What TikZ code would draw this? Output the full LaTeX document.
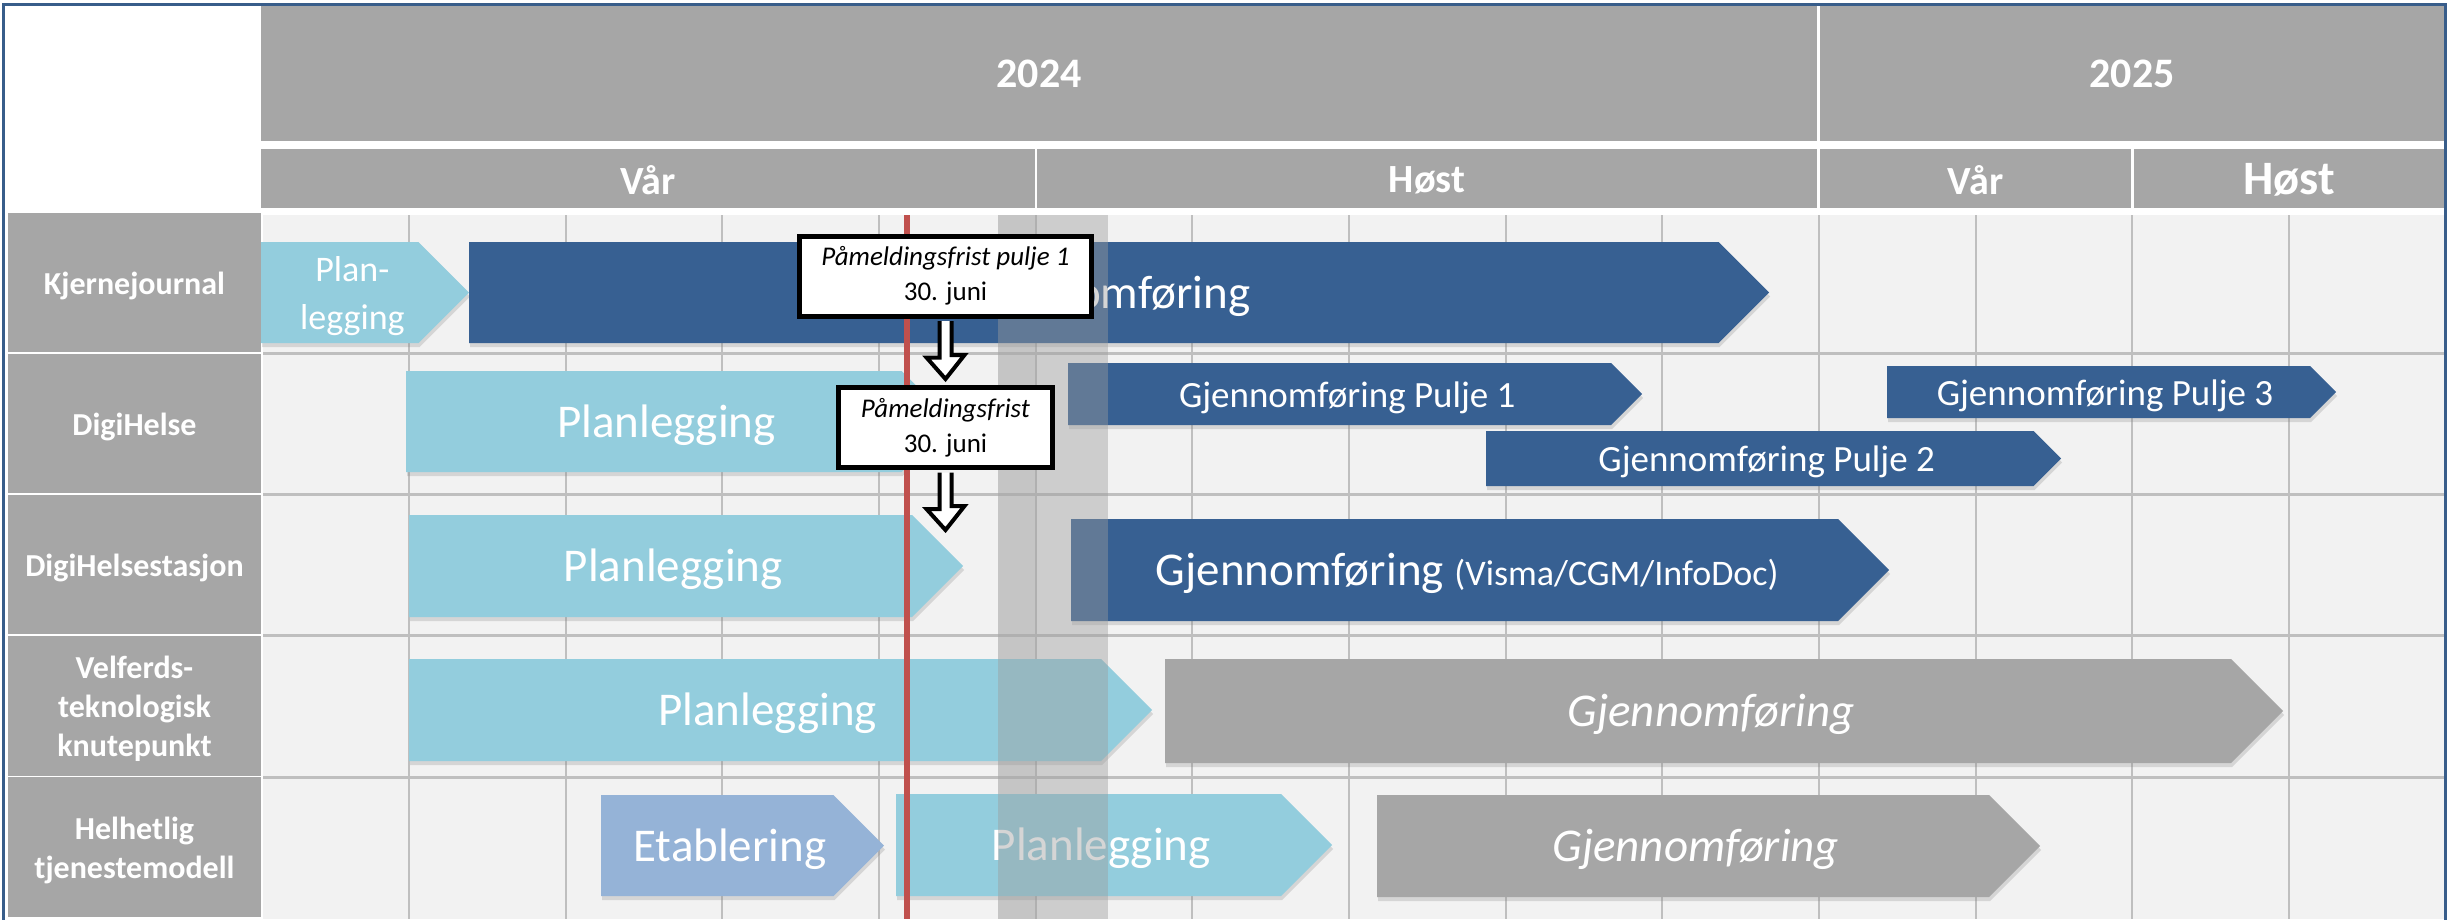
\documentclass[tikz,border=0pt]{standalone}
\usepackage{fontspec}
\setmainfont{Carlito}
\usetikzlibrary{calc,shadows}
\definecolor{headgray}{HTML}{A6A6A6}
\definecolor{gridbg}{HTML}{F2F2F2}
\definecolor{gridgray}{HTML}{BFBFBF}
\definecolor{planblue}{HTML}{93CDDD}
\definecolor{implblue}{HTML}{376092}
\definecolor{estabblue}{HTML}{95B3D7}
\definecolor{fristred}{HTML}{C0504D}
\definecolor{frameblue}{HTML}{385D8A}
\definecolor{bandgray}{HTML}{9C9C9C}
\definecolor{bandlight}{HTML}{E4E4E4}
\begin{document}
\begin{tikzpicture}[x=1pt,y=-1pt,
  headtext/.style={text=white,font=\bfseries\fontsize{42}{50}\selectfont},
  rowlabel/.style={text=white,inner sep=0pt,align=center,font=\bfseries\fontsize{32}{39}\selectfont},
  gridline/.style={draw=gridgray,line width=2pt},
  rowline/.style={draw=gridgray,line width=3pt},
  barshadow/.style={drop shadow={shadow xshift=1pt,shadow yshift=-4pt,opacity=.25}},
  planbar/.style={fill=planblue,barshadow},
  implbar/.style={fill=implblue,barshadow},
  estabbar/.style={fill=estabblue,barshadow},
  greybar/.style={fill=headgray,barshadow},
  bartext/.style={text=white,align=center,inner sep=0pt,yshift=-3.5pt},
  txtbig/.style={font=\fontsize{47}{56}\selectfont},
  txtmid/.style={font=\fontsize{37}{44}\selectfont},
  txttwo/.style={font=\fontsize{36}{48}\selectfont},
  txtital/.style={font=\itshape\fontsize{47}{56}\selectfont},
  callout/.style={draw=black,line width=5pt,fill=white,align=center,inner xsep=22pt,inner ysep=0pt,minimum height=80pt,font=\fontsize{27}{35}\selectfont},
  blockarrow/.style={draw=black,fill=white,line width=4pt,line join=miter}]
\useasboundingbox (0,0) rectangle (2460,919);
% header
\foreach \xa/\xb/\txt [count=\k] in {261/1817/2024, 1820/2444/2025}
  {\fill[headgray] (\xa,6) rectangle (\xb,141);
   \node[headtext] (year\k) at ({(\xa+\xb)/2},74) {\txt};}
\foreach \xa/\xb/\fs/\txt [count=\k] in {261/1035/40/Vår, 1037/1817/40/Høst, 1820/2131/40/Vår, 2134/2444/48/Høst}
  {\fill[headgray] (\xa,149) rectangle (\xb,208);
   \node[headtext,font=\bfseries\fontsize{\fs}{\fs}\selectfont] (season\k) at ({(\xa+\xb)/2},180) {\txt};}
% rows
\fill[gridbg] (263,215) rectangle (2444,919);
\fill[bandlight] (998,215) rectangle (1036,919);
\foreach \k in {0,...,12}
  \draw[gridline] ({409+156.65*\k},215) -- ({409+156.65*\k},919);
\foreach \j in {0,...,3}
  \draw[rowline] (263,{353.5+141.2*\j}) -- (2444,{353.5+141.2*\j});
\foreach \lbl [count=\j from 0] in {Kjernejournal, DigiHelse, DigiHelsestasjon, {Velferds-\\teknologisk\\knutepunkt}, {Helhetlig\\tjenestemodell}}
  {\fill[headgray] (8,{212.5+141.2*\j}) rectangle (261,{352+141.2*\j});
   \node[rowlabel] (row\j) at (134.5,{285.5+141.2*\j}) {\lbl};}
% bars
\foreach \xa/\xb/\ya/\yb/\sty/\fnt/\txt [count=\k] in {
  261/469/242/343/planbar/txttwo/{Plan-\\legging},
  469/1769/242/343/implbar/txtbig/{Gjennomføring},
  406/952/371/472/planbar/txtbig/{Planlegging},
  1068/1642/363/425/implbar/txtmid/{Gjennomføring Pulje 1},
  1486/2061/431/486/implbar/txtmid/{Gjennomføring Pulje 2},
  1887/2336/366/418/implbar/txtmid/{Gjennomføring Pulje 3},
  409/963/515/617/planbar/txtbig/{Planlegging},
  1071/1889/519/621/implbar/txtbig/{Gjennomføring {\fontsize{36}{44}\selectfont (Visma/CGM/InfoDoc)}},
  409/1152/659/761/planbar/txtbig/{Planlegging},
  1165/2283/659/763/greybar/txtital/{Gjennomføring},
  601/884/795/896/estabbar/txtbig/{Etablering},
  896/1332/794/896/planbar/txtbig/{Planlegging},
  1377/2040/795/897/greybar/txtital/{Gjennomføring}}
  {\fill[\sty] (\xa,\ya) -- ({\xb-(\yb-\ya)/2},\ya) -- (\xb,{(\ya+\yb)/2}) -- ({\xb-(\yb-\ya)/2},\yb) -- (\xa,\yb) -- cycle;
   \node[bartext,\fnt] (bar\k) at ({(\xa+\xb)/2-(\yb-\ya)/8},{(\ya+\yb)/2}) {\txt};}
\fill[bandgray,opacity=.42] (998,215) rectangle (1108,919);
\draw[fristred,line width=6pt] (907,215) -- (907,919);
% deadlines
\node[callout] (frist1) at (945.5,276) {\textit{Påmeldingsfrist pulje 1}\\30. juni};
\node[callout] (frist2) at (945.5,427.5) {\textit{Påmeldingsfrist}\\30. juni};
\coordinate (tip1) at (945.5,379);
\coordinate (tip2) at (945.5,530);
\draw[blockarrow] ($(frist1.south)+(-6,2.5)$) -- ++(0,36.5) -- ++(-13,0) -- (tip1) -- ($(tip1)+(19,-24)$) -- ++(-13,0) -- ($(frist1.south)+(6,2.5)$);
\draw[blockarrow] ($(frist2.south)+(-6,2.5)$) -- ++(0,36.5) -- ++(-13,0) -- (tip2) -- ($(tip2)+(19,-24)$) -- ++(-13,0) -- ($(frist2.south)+(6,2.5)$);
% frame
\draw[frameblue,line width=3pt] (3,925) -- (3,4) -- (2445,4) -- (2445,925);
\end{tikzpicture}
\end{document}
